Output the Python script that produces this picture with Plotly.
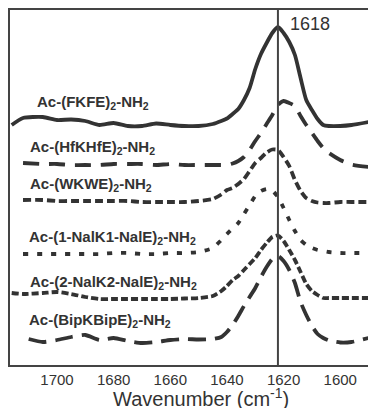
import plotly.graph_objects as go

# Wavenumber grid (cm^-1)
wn = [1716, 1712, 1705, 1700, 1695, 1690, 1685, 1680, 1675, 1670, 1665, 1660, 1655, 1650,
      1645, 1642, 1640, 1638, 1636, 1634, 1632, 1630, 1628, 1626, 1624, 1622, 1620, 1618,
      1616, 1614, 1612, 1610, 1608, 1606, 1604, 1600, 1596, 1590]

fkfe = [2.40, 2.47, 2.48, 2.45, 2.455, 2.44, 2.40, 2.42, 2.39, 2.39, 2.415, 2.40, 2.39, 2.39,
        2.41, 2.44, 2.465, 2.51, 2.56, 2.65, 2.77, 2.96, 3.11, 3.22, 3.32, 3.38, 3.32, 3.23,
        3.10, 2.87, 2.65, 2.55, 2.46, 2.40, 2.39, 2.39, 2.40, 2.43]

wn_hf = wn[1:]
hfkhfe = [2.02, 2.01, 2.01, 2.00, 2.00, 2.00, 2.01, 2.01, 2.01, 2.00, 2.01, 2.00, 2.00,
          2.00, 2.00, 2.00, 2.015, 2.04, 2.08, 2.15, 2.24, 2.32, 2.41, 2.50, 2.60, 2.64, 2.62,
          2.59, 2.49, 2.40, 2.32, 2.24, 2.17, 2.12, 2.05, 2.005, 1.98]

wn_w = wn[1:]
wkwe = [1.65, 1.65, 1.64, 1.64, 1.64, 1.64, 1.64, 1.64, 1.63, 1.63, 1.63, 1.63, 1.64,
        1.66, 1.705, 1.75, 1.77, 1.81, 1.86, 1.94, 2.02, 2.07, 2.125, 2.155, 2.15, 2.08, 1.99,
        1.85, 1.74, 1.67, 1.64, 1.625, 1.62, 1.62, 1.63, 1.63, 1.63]

wn_n1 = wn[1:]
nal1 = [1.11, 1.11, 1.11, 1.11, 1.11, 1.11, 1.12, 1.12, 1.11, 1.11, 1.12, 1.12, 1.13,
        1.17, 1.25, 1.31, 1.365, 1.42, 1.51, 1.60, 1.69, 1.74, 1.76, 1.745, 1.68, 1.57, 1.45,
        1.34, 1.25, 1.20, 1.17, 1.15, 1.14, 1.13, 1.12, 1.12, 1.12]

nal2 = [0.72, 0.71, 0.72, 0.73, 0.71, 0.68, 0.66, 0.66, 0.66, 0.66, 0.66, 0.66, 0.665, 0.67,
        0.69, 0.74, 0.79, 0.85, 0.89, 0.95, 1.01, 1.07, 1.15, 1.22, 1.28, 1.295, 1.24, 1.15,
        1.05, 0.93, 0.81, 0.74, 0.70, 0.67, 0.67, 0.67, 0.67, 0.67]

wn_b = [1710] + wn[2:]
bip = [0.26, 0.23, 0.25, 0.28, 0.30, 0.25, 0.27, 0.24, 0.22, 0.23, 0.25, 0.26, 0.255,
       0.26, 0.28, 0.33, 0.40, 0.49, 0.59, 0.68, 0.77, 0.88, 0.98, 1.06, 1.09, 1.04, 0.95,
       0.82, 0.63, 0.50, 0.39, 0.31, 0.27, 0.245, 0.225, 0.23, 0.27]

labels = ["Ac-(FKFE)<sub>2</sub>-NH<sub>2</sub>",
          "Ac-(HfKHfE)<sub>2</sub>-NH<sub>2</sub>",
          "Ac-(WKWE)<sub>2</sub>-NH<sub>2</sub>",
          "Ac-(1-NalK1-NalE)<sub>2</sub>-NH<sub>2</sub>",
          "Ac-(2-NalK2-NalE)<sub>2</sub>-NH<sub>2</sub>",
          "Ac-(BipKBipE)<sub>2</sub>-NH<sub>2</sub>"]

tick_vals = [1700, 1680, 1660, 1640, 1620, 1600]
peak_line = 1622
peak_label = "1618"

COL = "#333333"
W, H = 368, 408
ML, MR, MT, MB = 10, 0, 10, 43
XR = [1716.6, 1590.2]
YR = [0, 3.55]

def px_to_x(px):
    return XR[0] + (px - ML) / (W - ML - MR) * (XR[1] - XR[0])

def py_to_y(py):
    return YR[0] + (H - MB - py) / (H - MT - MB) * (YR[1] - YR[0])

series = [
    (wn, fkfe, "solid"),
    (wn_hf, hfkhfe, "16px,10px"),
    (wn_w, wkwe, "8px,4px"),
    (wn_n1, nal1, "5px,9px"),
    (wn, nal2, "7px,3px"),
    (wn_b, bip, "18px,9px"),
]

fig = go.Figure()
for (x, y, dash), name in zip(series, labels):
    fig.add_trace(go.Scatter(x=x, y=y, mode="lines", name=name,
                             line=dict(color=COL, width=3.8, dash=dash,
                                       shape="spline", smoothing=0.6),
                             showlegend=False, hoverinfo="skip"))

fig.add_shape(type="line", x0=peak_line, x1=peak_line, y0=0, y1=1, xref="x", yref="paper",
              line=dict(color="#444444", width=2))

label_pos = [(35, 102), (28, 147), (28, 184), (27, 237), (28, 282), (27, 320)]
for (lx, ly), txt in zip(label_pos, labels):
    fig.add_annotation(x=px_to_x(lx), y=py_to_y(ly), text="<b>" + txt + "</b>",
                       showarrow=False, xanchor="left", yanchor="middle",
                       font=dict(family="Liberation Sans, Arial", size=15, color=COL))

fig.add_annotation(x=px_to_x(310), y=py_to_y(23.5), text=peak_label, showarrow=False,
                   xanchor="center", yanchor="middle",
                   font=dict(family="Liberation Sans, Arial", size=18, color=COL))

fig.add_annotation(x=0.534, y=-0.092, xref="paper", yref="paper",
                   text="Wavenumber (cm<sup>-1</sup>)", showarrow=False,
                   xanchor="center", yanchor="middle",
                   font=dict(family="Liberation Sans, Arial", size=20, color=COL))

fig.update_layout(
    width=W, height=H,
    margin=dict(l=ML, r=MR, t=MT, b=MB),
    paper_bgcolor="white", plot_bgcolor="white",
    xaxis=dict(range=XR, tickvals=tick_vals, ticks="", showgrid=False, zeroline=False,
               showline=True, mirror=True, linecolor="#444444", linewidth=2,
               ticklabelstandoff=0,
               tickfont=dict(family="Liberation Sans, Arial", size=15, color=COL)),
    yaxis=dict(range=YR, showticklabels=False, ticks="", showgrid=False, zeroline=False,
               showline=True, mirror=False, linecolor="#444444", linewidth=2),
)

fig.write_html("out.html", config={"displayModeBar": False},
               post_script="document.body.style.margin='0px';document.body.style.padding='0px';")
